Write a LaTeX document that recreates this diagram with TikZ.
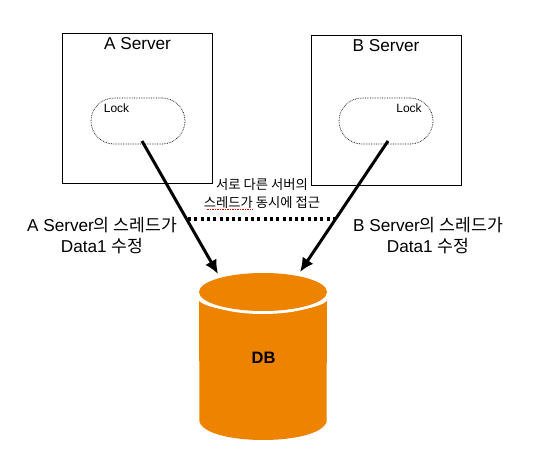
\documentclass[tikz,border=0pt]{standalone}
\usepackage{fontspec}
\setmainfont{Liberation Sans}
\newfontfamily\krfont{Noto Sans CJK KR}
\usetikzlibrary{arrows.meta}
\usetikzlibrary{shapes.geometric}
\definecolor{dborange}{HTML}{EE8300}
\tikzset{
    serverbox/.style={draw, line width=1pt, minimum width=150pt, minimum height=150pt},
    lockbox/.style={draw, densely dotted, line width=0.7pt, rounded corners=23pt, minimum width=94pt, minimum height=46pt},
    access/.style={line width=3pt, -{Latex[length=14pt,width=13pt]}},
    lbl/.style={align=center, font=\fontsize{17.2}{21}\selectfont}
}
\begin{document}
\begin{tikzpicture}[x=1pt, y=-1pt]
    \useasboundingbox (0,0) rectangle (535,465);

    % servers
    \node[serverbox] (serverA) at (137.5,108.3) {};
    \node[serverbox] (serverB) at (386,111) {};
    \node[lbl] (titleA) at (137.5,44) {A Server};
    \node[lbl] (titleB) at (386,46) {B Server};

    % locks
    \node[lockbox] (lockA) at (138,121) {};
    \node[lockbox] (lockB) at (386,121) {};
    \node[font=\fontsize{12}{14}\selectfont] (lockTextA) at (116.5,108.5) {Lock};
    \node[font=\fontsize{12}{14}\selectfont] (lockTextB) at (409,108.5) {Lock};

    % db
    \fill[dborange] (199,301) .. controls (215,316) and (311,316) .. (327,301) -- (326.5,422)
        .. controls (318,446) and (208,446) .. (199.5,422) -- cycle;
    \node[ellipse, fill=white, minimum width=134pt, minimum height=44pt, inner sep=0pt] (dbGap) at (263,292) {};
    \node[ellipse, fill=dborange, minimum width=128pt, minimum height=38pt, inner sep=0pt] (dbTop) at (263,292) {};
    \node[font=\fontsize{16.5}{18}\selectfont\bfseries] (dbText) at (263.5,358) {DB};

    % arrows
    \coordinate (startA) at (142,141);
    \coordinate (startB) at (388,141);
    \coordinate (endA) at (218,274);
    \coordinate (endB) at (300,272);
    \draw[access] (startA) -- (endA);
    \draw[access] (startB) -- (endB);

    % same time access
    \coordinate (dotL) at (188,219);
    \coordinate (dotR) at (338,219);
    \draw[line width=3.5pt, dash pattern=on 3pt off 3.3pt] (dotL) -- (dotR);
    \node[align=center, font=\krfont\fontsize{13.3}{17.5}\selectfont] (accessText) at (262,193.5) {서로 다른 서버의\\스레드가 동시에 접근};
    \coordinate (spellL) at (207,209.5);
    \coordinate (spellR) at (253,209.5);
    \draw[red, line width=1pt, dash pattern=on 1.5pt off 1pt] (spellL) -- (spellR);

    \node[lbl] (labelA) at (102,236) {A Server{\krfont 의 스레드가}\\Data1 {\krfont 수정}};
    \node[lbl] (labelB) at (428,236) {B Server{\krfont 의 스레드가}\\Data1 {\krfont 수정}};
\end{tikzpicture}
\end{document}
